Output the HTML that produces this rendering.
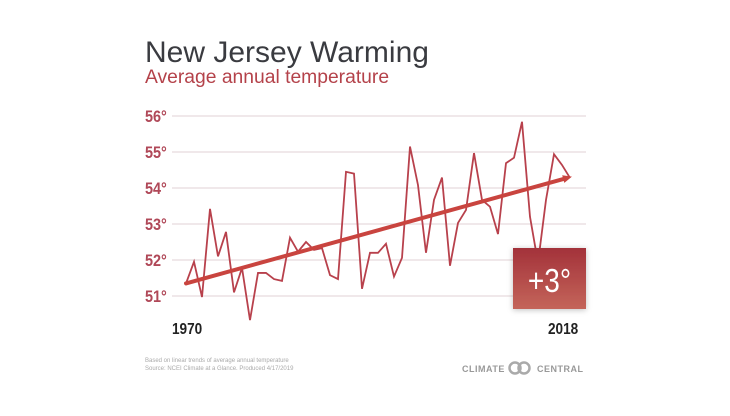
<!DOCTYPE html>
<html><head><meta charset="utf-8"><style>
body{margin:0;background:#fff;width:730px;height:411px;overflow:hidden;font-family:"Liberation Sans",sans-serif}
</style></head><body>
<svg width="730" height="411">
<defs>
<linearGradient id="bg" x1="0" y1="0" x2="0" y2="1"><stop offset="0" stop-color="#a3323a"/><stop offset="1" stop-color="#c4655a"/></linearGradient>
<filter id="sh" x="-30%" y="-30%" width="160%" height="160%"><feDropShadow dx="0" dy="1" stdDeviation="3" flood-color="#000" flood-opacity="0.25"/></filter>
</defs>
<text x="145" y="62" font-size="30" fill="#3a3b40">New Jersey Warming</text>
<text x="145" y="83" font-size="19.3" fill="#b4424a">Average annual temperature</text>
<g id="grid"></g>
<g id="series"></g>
<text x="172" y="334" font-size="16" font-weight="bold" fill="#222" transform="translate(172 0) scale(0.85 1) translate(-172 0)">1970</text>
<text x="548" y="334" font-size="16" font-weight="bold" fill="#222" transform="translate(548 0) scale(0.85 1) translate(-548 0)">2018</text>
<text x="145" y="362" font-size="6" fill="#aaa">Based on linear trends of average annual temperature</text>
<text x="145" y="370" font-size="6" fill="#aaa">Source: NCEI Climate at a Glance. Produced 4/17/2019</text>
<g>
<text x="462" y="372" font-size="9" font-weight="bold" fill="#999" letter-spacing="0.5">CLIMATE</text>
<circle cx="515" cy="368" r="5.5" fill="none" stroke="#aaa" stroke-width="2.5"/>
<circle cx="524" cy="368" r="5.5" fill="none" stroke="#aaa" stroke-width="2.5"/>
<text x="537" y="372" font-size="9" font-weight="bold" fill="#999" letter-spacing="0.5">CENTRAL</text>
</g>
</svg>
<script>
const years=[1970,1971,1972,1973,1974,1975,1976,1977,1978,1979,1980,1981,1982,1983,1984,1985,1986,1987,1988,1989,1990,1991,1992,1993,1994,1995,1996,1997,1998,1999,2000,2001,2002,2003,2004,2005,2006,2007,2008,2009,2010,2011,2012,2013,2014,2015,2016,2017,2018];
const temps=[51.35,51.95,50.97,53.42,52.1,52.78,51.1,51.78,50.33,51.64,51.64,51.47,51.42,52.62,52.23,52.5,52.28,52.33,51.58,51.47,54.45,54.4,51.2,52.2,52.2,52.45,51.54,52.06,55.15,54.08,52.2,53.67,54.29,51.84,53.03,53.39,54.97,53.67,53.48,52.72,54.69,54.84,55.84,53.2,51.92,53.67,54.94,54.64,54.28];
const trendStart=51.35, trendEnd=54.3;
const yTicks=[51,52,53,54,55,56];
const change="+3°";
const NS="http://www.w3.org/2000/svg";
const x=y=>186+(y-1970)*(384/48);
const yv=v=>296-(v-51)*36;
function mk(t,a,p){const e=document.createElementNS(NS,t);for(const k in a)e.setAttribute(k,a[k]);p.appendChild(e);return e;}
const grid=document.getElementById('grid'),ser=document.getElementById('series'),svg=document.querySelector('svg');
yTicks.forEach(t=>{
 const l=mk('line',{x1:172,x2:586,y1:yv(t),y2:yv(t),stroke:'#e2d2d5','stroke-width':1},grid);
 
 
 const tx=mk('text',{x:145,y:yv(t)+6,'font-size':17,'font-weight':'bold',fill:'#b04858',transform:`translate(145 0) scale(0.85 1) translate(-145 0)`},grid);
 tx.textContent=t+'°';
 
 
});
const pl=mk('polyline',{points:years.map((y,i)=>x(y)+','+yv(temps[i])).join(' '),fill:'none',stroke:'#b8414c','stroke-width':1.8,'stroke-linejoin':'miter'},ser);


const x0=x(years[0]),x1=x(years[years.length-1]),y0=yv(trendStart),y1=yv(trendEnd);
const tl=mk('line',{x1:x0,y1:y0,x2:x1-5,y2:y1+1.4,stroke:'#c9443f','stroke-width':4,'stroke-linecap':'round'},ser);


const ang=Math.atan2(y1-y0,x1-x0),c=Math.cos(ang),s=Math.sin(ang);
const ah=mk('polygon',{points:`${x1+2*c},${y1+2*s} ${x1-7*c-4*s},${y1-7*s+4*c} ${x1-7*c+4*s},${y1-7*s-4*c}`,fill:'#c9443f'},ser);


const g=mk('g',{},svg);


mk('rect',{x:513,y:248,width:73,height:61,fill:'url(#bg)',filter:'url(#sh)'},g);
const bt=mk('text',{x:549.5,y:292,'font-size':33,fill:'#fff','text-anchor':'middle',transform:'translate(549.5 0) scale(0.85 1) translate(-549.5 0)'},g);
bt.textContent=change;
</script>
</body></html>
